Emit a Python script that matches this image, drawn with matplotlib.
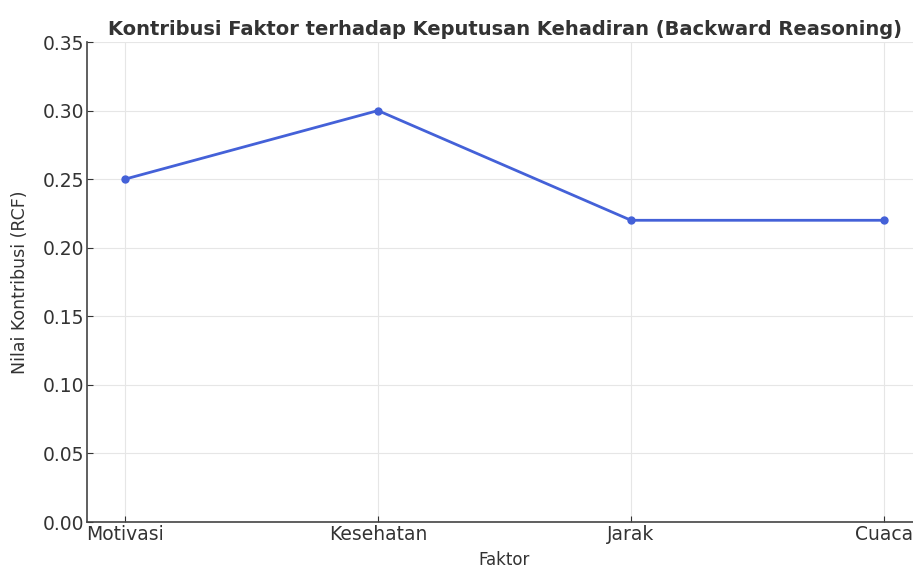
import matplotlib
matplotlib.use("Agg")
import matplotlib.pyplot as plt

categories = ["Motivasi", "Kesehatan", "Jarak", "Cuaca"]
values = [0.25, 0.30, 0.22, 0.22]
yticks = [0.00, 0.05, 0.10, 0.15, 0.20, 0.25, 0.30, 0.35]

fig = plt.figure(figsize=(9.13, 5.68), dpi=100)
ax = fig.add_axes([87/913, 1 - 522/568, (922-87)/913, (522-42)/568])

x = list(range(len(categories)))
ax.plot(x, values, marker="o", color="#4461d8", linewidth=2, markersize=5)

ax.set_xticks(x)
ax.set_xticklabels(categories)
ax.set_xlim(-0.15, 3.15)
ax.set_ylim(0, 0.35)
ax.set_yticks(yticks)
ax.set_yticklabels([f"{v:.2f}" for v in yticks])

ax.grid(True, color="#e6e6e6", linewidth=0.8)
ax.set_axisbelow(True)
for s in ["top", "right"]:
    ax.spines[s].set_visible(False)
for s in ["left", "bottom"]:
    ax.spines[s].set_color("#444444")
    ax.spines[s].set_linewidth(1.2)

ax.tick_params(axis="both", direction="in", length=4, labelsize=13.5, colors="#333333", pad=2)
ax.set_xlabel("Faktor", fontsize=12, color="#333333", labelpad=5)
ax.set_ylabel("Nilai Kontribusi (RCF)", fontsize=12.5, color="#333333", labelpad=10)
ax.set_title("Kontribusi Faktor terhadap Keputusan Kehadiran (Backward Reasoning)",
             fontsize=14, fontweight="bold", color="#333333", pad=5)

fig.savefig("out.png", dpi=100)
